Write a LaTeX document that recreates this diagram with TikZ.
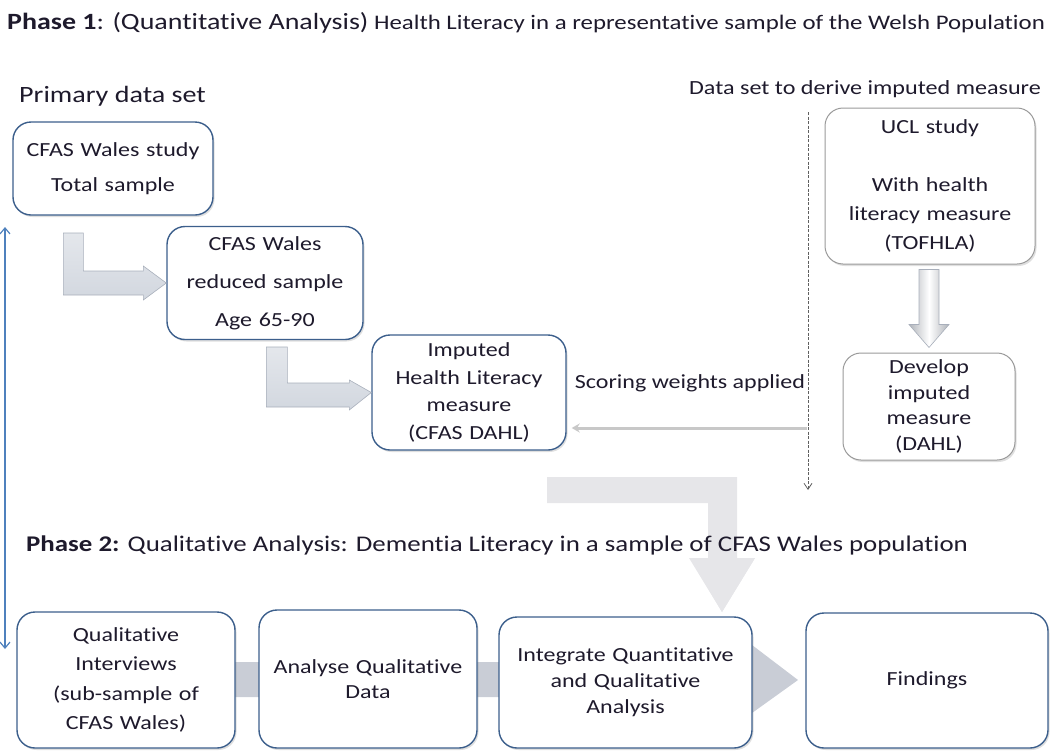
\documentclass[tikz,border=0pt]{standalone}
\usepackage{fontspec}
\setmainfont{Carlito}[FakeStretch=1.2, RawFeature={-liga;-clig;-dlig}]
\usetikzlibrary{arrows.meta,calc,shadows}
\newcommand{\nti}{t\kern0pt i}
\definecolor{boxblue}{HTML}{3C5F8C}
\definecolor{boxgray}{HTML}{9A9A9A}
\definecolor{textcol}{HTML}{1E1A2C}
\definecolor{elbowfill}{HTML}{D2D7DF}
\definecolor{elbowdraw}{HTML}{A8AFBB}
\definecolor{bigfill}{HTML}{E6E6E9}
\definecolor{procfill}{HTML}{C9CDD6}
\definecolor{thinarrow}{HTML}{C8C8C8}
\definecolor{dotcol}{HTML}{606060}
\definecolor{bluearrow}{HTML}{4F81BD}
\begin{document}
\begin{tikzpicture}[x=1pt,y=-1pt,
  boxb/.style={draw=boxblue, line width=1.4pt, fill=white, rounded corners=18pt,
    align=center, inner sep=0pt, text=textcol,
    drop shadow={opacity=0.25, shadow xshift=1.5pt, shadow yshift=-2pt}},
  boxg/.style={boxb, draw=boxgray, line width=1pt},
  elbow/.style={draw=elbowdraw, line width=0.6pt, top color=elbowfill!60, bottom color=elbowfill, line join=miter},
  bigarrow/.style={fill=bigfill, draw=none},
  procarrow/.style={fill=procfill, draw=none},
  vertarrow/.style={draw=elbowdraw, line width=0.6pt, left color=elbowfill!80!black!90, right color=elbowfill!80!black!90, middle color=white},
  lbl/.style={inner sep=0pt, text=textcol},
]
\useasboundingbox (0,0) rectangle (1058,750);

% background block arrows
\coordinate (bigtip) at (722,612);
\draw[bigarrow] (bigtip) -- ++(33,-54) -- ++(-18,0) -- ++(0,-81) -- ++(-190,0) -- ++(0,26) -- ++(161,0) -- ++(0,55) -- ++(-18,0) -- cycle;

% titles
\node[lbl, anchor=west, font=\fontsize{20.7}{23}\selectfont] (t1) at (7,23)
  {{\fontsize{23.3}{25}\selectfont\textbf{Phase 1}: (Quan\nti ta\nti ve Analysis)} Health Literacy in a representa\nti ve sample of the Welsh Population};
\node[lbl, anchor=west, font=\fontsize{23.4}{26}\selectfont] (prim) at (19,96) {Primary data set};
\node[lbl, anchor=east, font=\fontsize{20.1}{22}\selectfont] (dset) at (1041,89) {Data set to derive imputed measure};
\node[lbl, anchor=west, font=\fontsize{22.4}{25}\selectfont] (t2) at (26,545)
  {\textbf{Phase 2:} Qualita\nti ve Analysis: Demen\nti a Literacy in a sample of CFAS Wales population};

% phase 1 nodes
\node[boxb, minimum width=200pt, minimum height=93pt, text width=190pt, font=\fontsize{20}{35}\selectfont] (b1) at (113,168.5)
  {CFAS Wales study\\Total sample};
\node[boxb, minimum width=196pt, minimum height=113pt, text width=186pt, font=\fontsize{20}{38}\selectfont] (b2) at (265,283)
  {CFAS Wales\\reduced sample\\Age 65-90};
\node[boxb, minimum width=194pt, minimum height=115pt, text width=186pt, font=\fontsize{20}{27.5}\selectfont] (b3) at (469,392.5)
  {Imputed\\Health Literacy\\measure\\(CFAS DAHL)};
\node[boxg, minimum width=210pt, minimum height=156pt, text width=200pt, font=\fontsize{20}{29}\selectfont] (ucl) at (930,186)
  {UCL study\\[29pt]With health\\literacy measure\\(TOFHLA)};
\node[boxg, minimum width=172pt, minimum height=107pt, text width=164pt, font=\fontsize{20}{25.5}\selectfont] (dev) at (929,406.5)
  {Develop\\imputed\\measure\\(DAHL)};

% elbow arrows
\draw[elbow] (b2.west) -- ++(-23,17) -- ++(0,-5) -- ++(-80,0) -- ++(0,-62) -- ++(20,0) -- ++(0,38) -- ++(60,0) -- ++(0,-5) -- cycle;
\draw[elbow] (b3.west) -- ++(-22,17.5) -- ++(0,-3) -- ++(-83,0) -- ++(0,-60) -- ++(21,0) -- ++(0,36) -- ++(62,0) -- ++(0,-3) -- cycle;

% UCL -> develop arrow
\draw[vertarrow] ($(dev.north)+(0,-5)$) -- ++(20,-23) -- ++(-10,0) -- ++(0,-55) -- ++(-20,0) -- ++(0,55) -- ++(-10,0) -- cycle;

% dotted divider and scoring arrow
\coordinate (dtop) at (808,112);
\coordinate (dbot) at (808,490);
\draw[dotcol, line width=0.8pt, dash pattern=on 3pt off 1.5pt, -{Straight Barb[length=6pt,width=8pt]}] (dtop) -- (dbot);
\coordinate (sw) at (807,428);
\draw[thinarrow, line width=3pt, -{Stealth[length=8pt,width=9pt]}] (sw) -- ($(b3.east |- sw)+(5,0)$);
\node[lbl, font=\fontsize{20}{22}\selectfont] (score) at (690,383) {Scoring weights applied};

% blue double arrow
\coordinate (bt) at (5,227);
\coordinate (bb) at (5,649);
\draw[bluearrow, line width=1.2pt, {Straight Barb[length=6pt,width=10pt]}-{Straight Barb[length=6pt,width=10pt]}] (bt) -- (bb);

% process arrow (behind phase 2 boxes)
\coordinate (ptip) at (798,680);
\draw[procarrow] (ptip) -- ++(-46,33) -- ++(0,-16) -- ++(-652,0) -- ++(0,-35) -- ++(652,0) -- ++(0,-17) -- cycle;

% phase 2 nodes
\node[boxb, minimum width=218pt, minimum height=136pt, text width=208pt, font=\fontsize{20}{29.5}\selectfont] (q1) at (126,680)
  {Qualita\nti ve\\Interviews\\(sub-sample of\\CFAS Wales)};
\node[boxb, minimum width=218pt, minimum height=138pt, text width=208pt, font=\fontsize{20}{24.5}\selectfont] (q2) at (368,679)
  {Analyse Qualita\nti ve\\Data};
\node[boxb, minimum width=253pt, minimum height=131pt, text width=243pt, font=\fontsize{20}{26}\selectfont] (q3) at (625.5,682.5)
  {Integrate Quan\nti ta\nti ve\\and Qualita\nti ve\\Analysis};
\node[boxb, minimum width=242pt, minimum height=135pt, text width=232pt, font=\fontsize{20}{24}\selectfont] (fin) at (927,680.5)
  {Findings};

% redraw big arrow tip over q3 top edge
\draw[bigarrow] (bigtip) -- ++(33,-54) -- ++(-66,0) -- cycle;
\end{tikzpicture}
\end{document}
